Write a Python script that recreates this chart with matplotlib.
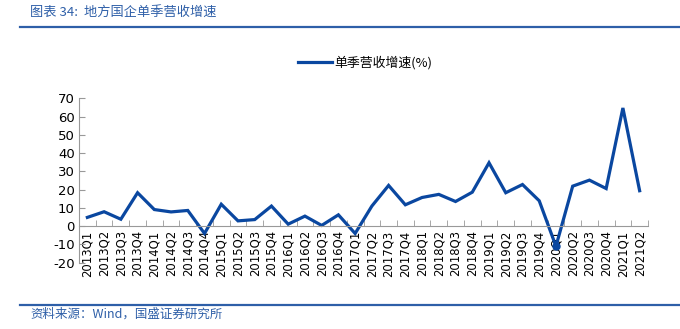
import matplotlib
matplotlib.use("Agg")
import matplotlib.pyplot as plt
import numpy as np

plt.rcParams['font.family'] = ['DejaVu Sans', 'Noto Sans CJK SC']

quarters = ["2013Q1", "2013Q2", "2013Q3", "2013Q4",
            "2014Q1", "2014Q2", "2014Q3", "2014Q4",
            "2015Q1", "2015Q2", "2015Q3", "2015Q4",
            "2016Q1", "2016Q2", "2016Q3", "2016Q4",
            "2017Q1", "2017Q2", "2017Q3", "2017Q4",
            "2018Q1", "2018Q2", "2018Q3", "2018Q4",
            "2019Q1", "2019Q2", "2019Q3", "2019Q4",
            "2020Q1", "2020Q2", "2020Q3", "2020Q4",
            "2021Q1", "2021Q2"]
growth = [4.8, 7.9, 3.8, 18.3,
          9.1, 7.8, 8.6, -4.0,
          12.0, 2.9, 3.6, 11.0,
          1.1, 5.5, 0.4, 6.2,
          -4.0, 11.0, 22.3, 11.7,
          15.7, 17.4, 13.5, 18.6,
          34.7, 18.3, 22.8, 13.9,
          -11.0, 21.9, 25.2, 20.6,
          64.7, 19.4]
yticks = [-20, -10, 0, 10, 20, 30, 40, 50, 60, 70]

title_text = "图表 34:  地方国企单季营收增速"
legend_text = "单季营收增速(%)"
source_text = "资料来源：Wind，国盛证券研究所"

line_color = "#0A47A0"
deco_color = "#2E5FA8"

fig = plt.figure(figsize=(6.8, 3.29), dpi=100)
ax = fig.add_axes([79 / 680, (329 - 262.7) / 329, (648 - 79) / 680, (262.7 - 98.3) / 329])

for s in ['top', 'right']:
    ax.spines[s].set_visible(False)
ax.spines['bottom'].set_position(('data', 0))
ax.spines['bottom'].set_color('#999999')
ax.spines['left'].set_color('#999999')

x = np.arange(len(quarters))
marker_idx = quarters.index("2020Q1")
ax.plot(x, growth, color=line_color, lw=2.3, solid_joinstyle='miter', label=legend_text)
ax.plot([x[marker_idx]], [growth[marker_idx]], 'o', color=line_color, markersize=5)

ax.set_xlim(-0.5, len(quarters) - 0.5)
ax.set_ylim(-20, 70)
ax.set_yticks(yticks)
ax.set_yticklabels([str(v) for v in yticks], fontsize=9.5)

ax.set_xticks(x)
ax.set_xticklabels(quarters, rotation=90, fontsize=8.4)
ax.set_xticks(np.arange(len(quarters) + 1) - 0.5, minor=True)
ax.tick_params(axis='x', which='major', length=0, pad=3)
ax.tick_params(axis='x', which='minor', length=4, direction='in', color='#999999')
ax.tick_params(axis='y', length=4, direction='in', color='#999999', pad=3)

leg = fig.legend(loc='center', bbox_to_anchor=(0.537, (329 - 63) / 329), frameon=False,
                 prop={'family': ['Noto Sans CJK SC', 'DejaVu Sans'], 'size': 9.3},
                 handlelength=2.6, handletextpad=0.2)

# header / footer decoration
fig.text(30 / 680, 1 - 13 / 329, title_text, color=deco_color, fontsize=9.5,
         style='italic', va='center', ha='left',
         family=['Noto Sans CJK SC', 'DejaVu Sans'])
fig.add_artist(plt.Line2D([20 / 680, 1.0], [1 - 26.5 / 329] * 2, color=deco_color, lw=1.6))
fig.add_artist(plt.Line2D([20 / 680, 1.0], [1 - 305.3 / 329] * 2, color=deco_color, lw=1.6))
fig.text(30 / 680, 1 - 314 / 329, source_text, color=deco_color, fontsize=9,
         style='italic', va='center', ha='left',
         family=['Noto Sans CJK SC', 'DejaVu Sans'])

fig.savefig("out.png", dpi=100)
